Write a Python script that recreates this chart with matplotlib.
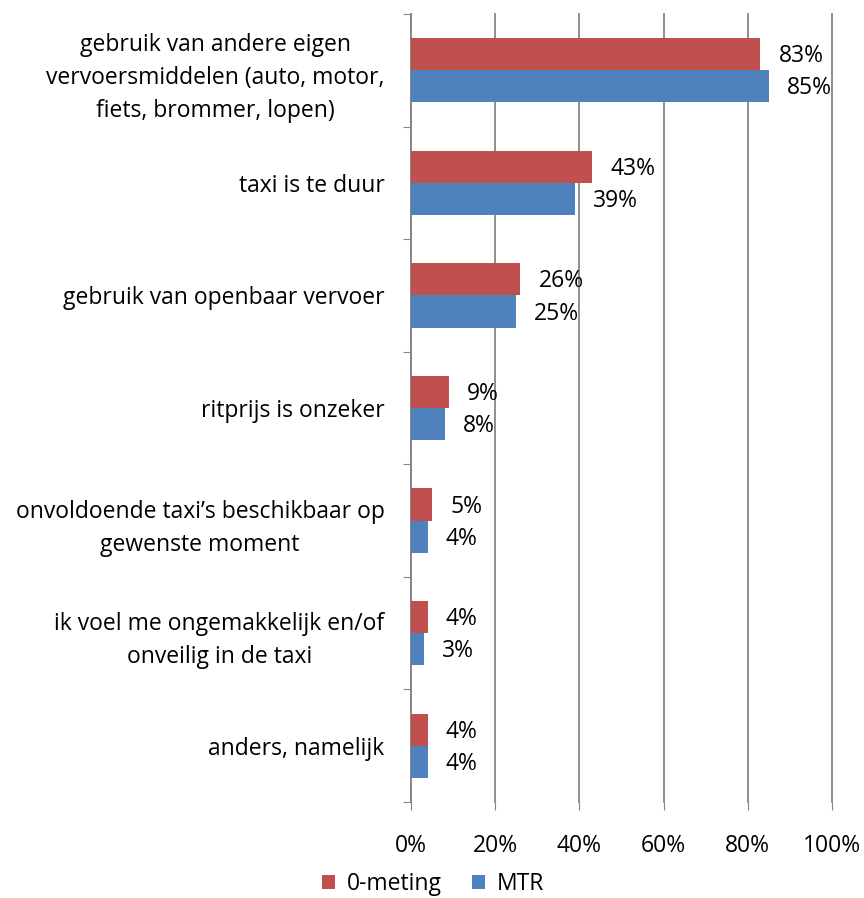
import matplotlib
matplotlib.use("Agg")

import matplotlib.pyplot as plt  # noqa: E402
import numpy as np               # noqa: E402

# ─── Data ────────────────────────────────────────────────────────────────────
categories = [
    "gebruik van andere eigen\nvervoersmiddelen (auto, motor,\nfiets, brommer, lopen)",
    "taxi is te duur",
    "gebruik van openbaar vervoer",
    "ritprijs is onzeker",
    "onvoldoende taxi’s beschikbaar op\ngewenste moment",
    "ik voel me ongemakkelijk en/of\nonveilig in de taxi",
    "anders, namelijk",
]
nulmeting = [83, 43, 26, 9, 5, 4, 4]
mtr = [85, 39, 25, 8, 4, 3, 4]
series_names = ["0-meting", "MTR"]
xticks = [0, 20, 40, 60, 80, 100]

RED = "#C0504D"
BLUE = "#4F81BD"
GRID = "#868686"
FS = 16.5

plt.rcParams["font.family"] = ["Open Sans", "DejaVu Sans"]

fig = plt.figure(figsize=(8.64, 8.98), dpi=100)
ax = fig.add_axes([0.4757, 0.1069, 0.963 - 0.4757, 0.9844 - 0.1069])

n = len(categories)
y = np.arange(n)
h = 0.285

bars_red = ax.barh(y - h / 2, nulmeting, height=h, color=RED, label=series_names[0], zorder=3)
bars_blue = ax.barh(y + h / 2, mtr, height=h, color=BLUE, label=series_names[1], zorder=3)

for bars, vals in ((bars_red, nulmeting), (bars_blue, mtr)):
    for b, v in zip(bars, vals):
        ax.annotate(f"{v}%", (b.get_width(), b.get_y() + b.get_height() / 2),
                    xytext=(13, -1.5), textcoords="offset points",
                    ha="left", va="center", fontsize=FS)

ax.set_xlim(0, 100)
ax.set_ylim(n - 0.5, -0.5)
ax.set_xticks(xticks)
ax.set_xticklabels([f"{t}%" for t in xticks], fontsize=FS)
ax.tick_params(axis="x", length=6, color=GRID, pad=17)

ax.set_yticks(np.arange(n + 1) - 0.5, minor=False)
ax.set_yticklabels([])
ax.set_yticks(y, minor=True)
ax.set_yticklabels(categories, minor=True, fontsize=FS, multialignment="center",
                   linespacing=1.5)
ax.tick_params(axis="y", which="major", length=6, color=GRID)
ax.tick_params(axis="y", which="minor", length=0, pad=19)

ax.grid(axis="x", color=GRID, linewidth=1.3, zorder=0)
for gl in ax.get_xgridlines():
    gl.set_clip_on(False)
for s in ("top", "right", "bottom"):
    ax.spines[s].set_visible(False)
ax.spines["left"].set_color(GRID)
ax.spines["left"].set_linewidth(1.3)

fig.legend(loc="center", bbox_to_anchor=(433 / 864, 1 - 884 / 898), ncol=2,
           frameon=False, fontsize=FS, handlelength=0.6, handleheight=0.6,
           handletextpad=0.5, columnspacing=1.3)

fig.savefig("out.png", dpi=100)
